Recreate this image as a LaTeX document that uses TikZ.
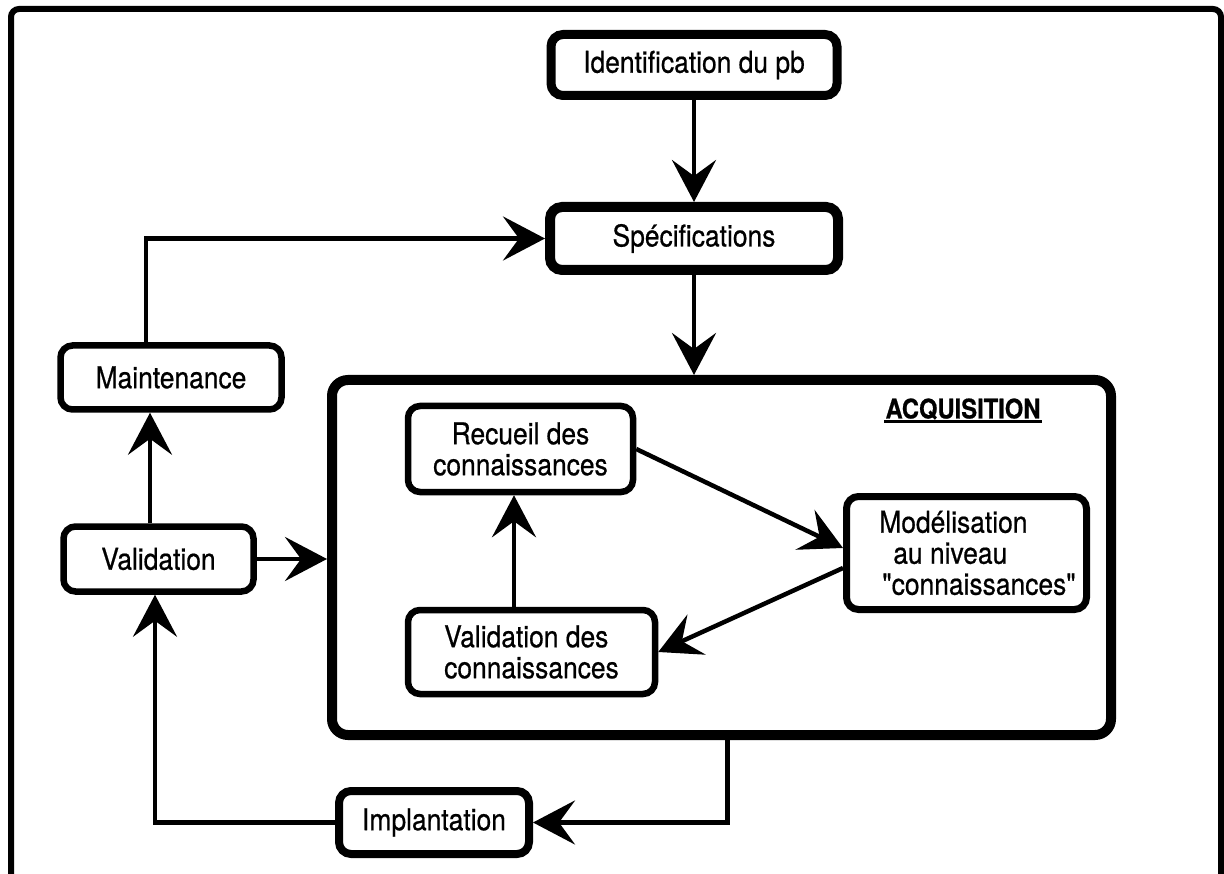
\documentclass[tikz,border=0pt]{standalone}
\usepackage{fontspec}
\setmainfont{TeX Gyre Heros}[Ligatures=TeXOff, FakeStretch=0.88, FakeBold=0.6]
\usetikzlibrary{arrows.meta,calc}
\begin{document}
\begin{tikzpicture}[x=1pt,y=-1pt,
  box/.style={draw, rounded corners=12pt, fill=white, line width=6.5pt,
    font=\fontsize{30}{31}\selectfont, inner sep=0pt},
  bigbox/.style={box, line width=9pt},
  arr/.style={line width=4.5pt, -{Stealth[length=42pt,width=44pt,inset=16pt]}},
  frame/.style={line width=6pt, rounded corners=8pt}]
\useasboundingbox (0,0) rectangle (1224,874);
\fill[white] (0,0) rectangle (1224,874);
\draw[frame] (11,900) -- (11,9) -- (1221,9) -- (1221,900);

\node[bigbox, minimum width=286pt, minimum height=61pt] (ident) at (694,65) {Identification du pb\hspace{18pt}};
\node[bigbox, line width=10pt, minimum width=288pt, minimum height=63pt] (spec) at (694,238.5) {Spécifications\hspace{18pt}};
\node[bigbox, line width=10pt, rounded corners=16pt, minimum width=779pt, minimum height=355pt] (acq) at (721.5,557.5) {};
\node[font=\bfseries\fontsize{27}{30}\selectfont, inner sep=1pt] (acqlab) at (963,409) {ACQUISITION};
\draw[line width=2.5pt] ([yshift=-3pt]acqlab.base west) -- ([yshift=-3pt]acqlab.base east);

\node[box, align=center, minimum width=225pt, minimum height=86pt] (rec) at (520.5,449) {Recueil des\\connaissances};
\node[box, line width=7pt, align=left, minimum width=240pt, minimum height=113pt] (model) at (966.5,553) {\hspace*{22pt}Modélisation\\\hspace*{36pt}au niveau\\\hspace*{25pt}"connaissances"};
\node[box, align=left, minimum width=247pt, minimum height=84pt] (valdes) at (531.5,652) {Validation des\\connaissances};

\node[box, minimum width=221pt, minimum height=64pt] (maint) at (171,377.5) {Maintenance};
\node[box, minimum width=190pt, minimum height=65pt] (valid) at (158.5,559) {Validation\hspace{12pt}};
\node[bigbox, line width=8pt, minimum width=190pt, minimum height=63pt] (impl) at (434,822.5) {Implantation\hspace{20pt}};

\draw[arr] (ident) -- (spec);
\draw[arr] (spec.south) -- (spec.south |- acq.north);
\coordinate (mtop) at ([xshift=-25pt]maint.north);
\draw[arr] (mtop) |- (spec.west);
\coordinate (vtop) at ([xshift=-8.5pt]valid.north);
\draw[arr] (vtop) -- (vtop |- maint.south);
\draw[arr] (valid.east) -- (valid.east -| acq.west);
\coordinate (vbot) at ([xshift=-3.5pt]valid.south);
\draw[arr] (impl.west) -| (vbot);
\coordinate (abot) at ([xshift=6pt]acq.south);
\draw[arr] (abot) |- (impl.east);
\draw[arr] (rec.east) -- ([yshift=5pt]model.west);
\draw[arr] ([yshift=-15pt]model.west) -- (valdes.east);
\coordinate (vx) at ([xshift=-6.5pt]rec.south);
\draw[arr] (vx |- valdes.north) -- (vx);
\end{tikzpicture}
\end{document}
